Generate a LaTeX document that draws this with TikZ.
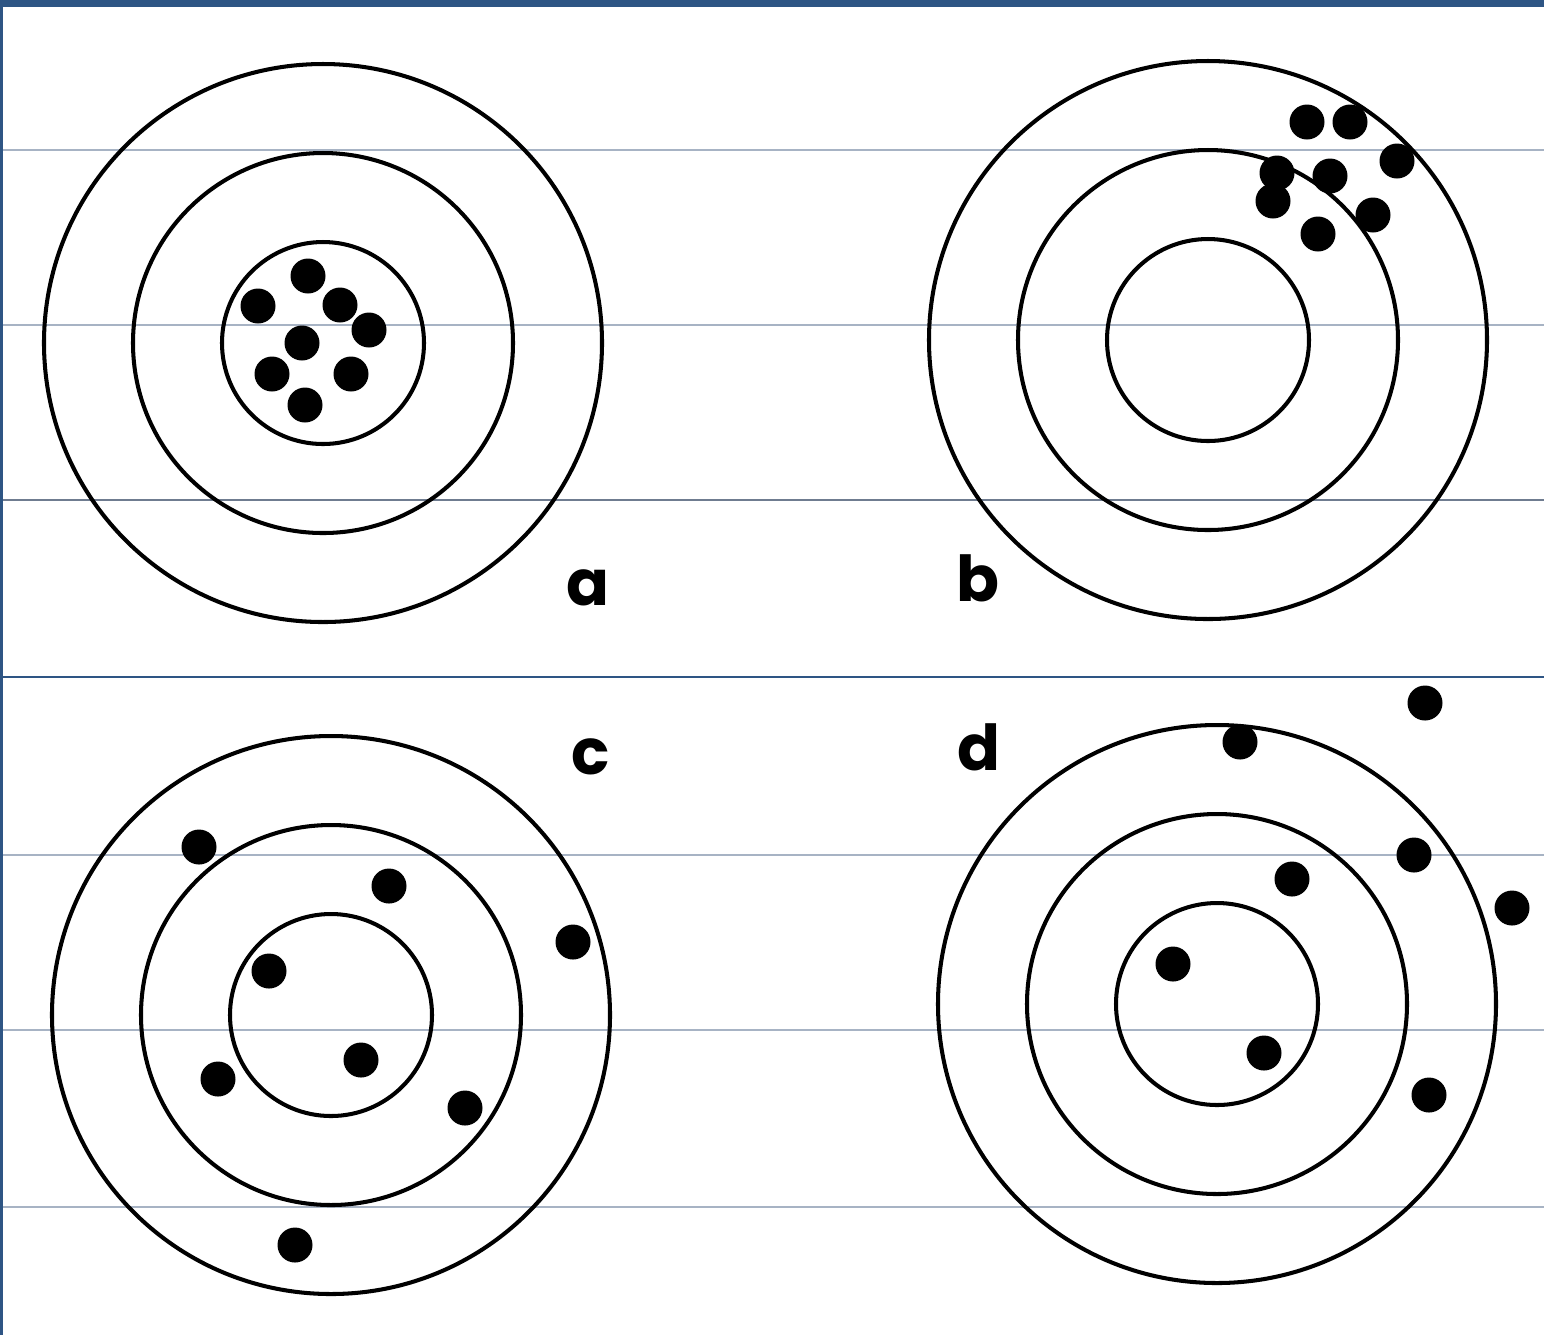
\documentclass[tikz,border=0pt]{standalone}
\usepackage{fontspec}
\setmainfont{Poppins}
\usetikzlibrary{positioning}
\definecolor{scanblue}{HTML}{2E5584}
\definecolor{rulegray}{HTML}{A7B3C4}
\definecolor{ruledark}{HTML}{6F7C90}

\begin{document}
\begin{tikzpicture}[x=1cm, y=-1cm,
  ring/.style={draw, circle, line width=1.15pt, inner sep=0pt},
  ringout/.style={ring, minimum size=5.58cm},
  ringmid/.style={ring, minimum size=3.80cm},
  ringin/.style={ring, minimum size=2.02cm},
  shot/.style={fill, circle, inner sep=0pt, minimum size=0.35cm},
  tag/.style={font=\fontsize{18}{18}\selectfont\bfseries, anchor=base, inner sep=0pt},
  scanrule/.style={rulegray, line width=0.4pt}
]
\useasboundingbox (0,0) rectangle (15.44,13.35);

% scan frame and rules
\fill[scanblue] (0,0) rectangle (15.44,0.07);
\fill[scanblue] (0,0) rectangle (0.03,13.35);
\draw[scanrule] (0.03,1.50) -- (15.44,1.50);
\draw[scanrule] (0.03,3.25) -- (15.44,3.25);
\draw[scanrule, ruledark] (0.03,5.00) -- (15.44,5.00);
\draw[scanblue, line width=0.6pt] (0.03,6.77) -- (15.44,6.77);
\draw[scanrule] (0.03,8.55) -- (15.44,8.55);
\draw[scanrule] (0.03,10.30) -- (15.44,10.30);
\draw[scanrule] (0.03,12.07) -- (15.44,12.07);

% target a
\node[ringout] (aout) at (3.23,3.43) {};
\node[ringmid] (amid) at (aout.center) {};
\node[ringin] (ain) at (aout.center) {};
\node[shot] (a1) at (3.08,2.76) {};
\node[shot] (a2) at (2.58,3.06) {};
\node[shot] (a3) at (3.40,3.05) {};
\node[shot] (a4) at (3.69,3.30) {};
\node[shot] (a5) at (3.02,3.43) {};
\node[shot] (a6) at (2.72,3.74) {};
\node[shot] (a7) at (3.51,3.74) {};
\node[shot] (a8) at (3.05,4.05) {};
\node[tag] (la) at (5.88,6.05) {a};

% target b
\node[ringout] (bout) at (12.08,3.40) {};
\node[ringmid] (bmid) at (bout.center) {};
\node[ringin] (bin) at (bout.center) {};
\node[shot] (b1) at (13.07,1.22) {};
\node[shot] (b2) at (13.50,1.22) {};
\node[shot] (b3) at (13.97,1.61) {};
\node[shot] (b4) at (12.77,1.73) {};
\node[shot] (b5) at (13.30,1.76) {};
\node[shot] (b6) at (12.73,2.01) {};
\node[shot] (b7) at (13.73,2.15) {};
\node[shot] (b8) at (13.18,2.34) {};
\node[tag] (lb) at (9.78,6.01) {b};

% target c
\node[ringout] (cout) at (3.31,10.15) {};
\node[ringmid] (cmid) at (cout.center) {};
\node[ringin] (cin) at (cout.center) {};
\node[shot] (c1) at (1.99,8.47) {};
\node[shot] (c2) at (3.89,8.86) {};
\node[shot] (c3) at (5.73,9.42) {};
\node[shot] (c4) at (2.69,9.71) {};
\node[shot] (c5) at (3.61,10.60) {};
\node[shot] (c6) at (2.18,10.79) {};
\node[shot] (c7) at (4.65,11.08) {};
\node[shot] (c8) at (2.95,12.45) {};
\node[tag] (lc) at (5.91,7.74) {c};

% target d
\node[ringout] (dout) at (12.17,10.04) {};
\node[ringmid] (dmid) at (dout.center) {};
\node[ringin] (din) at (dout.center) {};
\node[shot] (d1) at (14.25,7.03) {};
\node[shot] (d2) at (12.40,7.42) {};
\node[shot] (d3) at (14.14,8.55) {};
\node[shot] (d4) at (12.92,8.79) {};
\node[shot] (d5) at (15.12,9.08) {};
\node[shot] (d6) at (11.73,9.64) {};
\node[shot] (d7) at (12.64,10.53) {};
\node[shot] (d8) at (14.29,10.95) {};
\node[tag] (ld) at (9.79,7.70) {d};
\end{tikzpicture}
\end{document}
